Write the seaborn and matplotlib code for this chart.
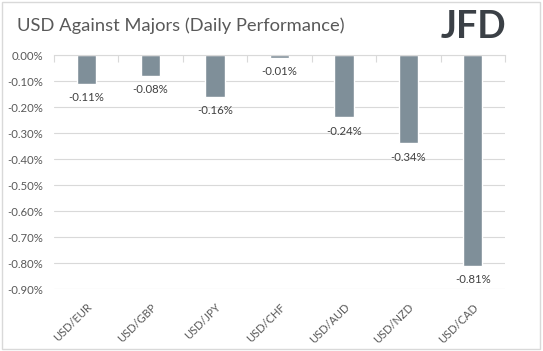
import matplotlib
matplotlib.use('Agg')
import matplotlib.pyplot as plt
import seaborn as sns
from matplotlib.patches import Rectangle
from matplotlib.ticker import FixedLocator

pairs = ['USD/EUR', 'USD/GBP', 'USD/JPY', 'USD/CHF', 'USD/AUD', 'USD/NZD', 'USD/CAD']
changes = [-0.11, -0.08, -0.16, -0.01, -0.24, -0.34, -0.81]
yticks = [0.0, -0.1, -0.2, -0.3, -0.4, -0.5, -0.6, -0.7, -0.8, -0.9]

sns.set_style('white')
plt.rcParams['font.family'] = ['Lato', 'DejaVu Sans']

fig = plt.figure(figsize=(5.43, 3.51), dpi=100)
ax = fig.add_axes([0.0994, 0.1766, 0.8306, 0.6664])

sns.barplot(x=pairs, y=changes, color='#7f8f99', saturation=1, width=0.3, ax=ax)

ax.set_ylim(-0.9, 0)
ax.set_xlim(-0.5, len(pairs) - 0.5)
ax.set_yticks(yticks)
ax.set_yticklabels([f'{v:.2f}%' for v in yticks])
ax.yaxis.grid(True, color='#d9d9d9', lw=0.8)
ax.set_axisbelow(True)
for s in ['left', 'right', 'bottom']:
    ax.spines[s].set_visible(False)
ax.spines['top'].set_color('#d9d9d9')
ax.spines['top'].set_linewidth(0.8)

ax.set_xticks(range(len(pairs)))
ax.set_xticklabels(pairs, rotation=45, ha='right', rotation_mode='anchor')
ax.xaxis.set_minor_locator(FixedLocator([i + 0.5 for i in range(-1, len(pairs))]))
ax.tick_params(axis='x', which='major', length=0, pad=9, labelsize=8, colors='#595959')
ax.tick_params(axis='x', which='minor', top=True, bottom=False, direction='in', length=5,
               color='#d9d9d9', width=0.8)
ax.tick_params(axis='y', length=0, pad=8, labelsize=8.2, colors='#595959')
ax.set_xlabel('')
ax.set_ylabel('')

for c in ax.containers:
    ax.bar_label(c, labels=[f'{v:.2f}%' for v in changes], padding=6, fontsize=8.2, color='#404040')

fig.text(0.031, 0.928, 'USD Against Majors (Daily Performance)', fontsize=13.2,
         color='#595959', va='center', ha='left')
fig.text(0.932, 0.922, 'JFD', fontsize=27, fontweight='bold', color='#3b4046',
         va='center', ha='right')

fig.patches.append(Rectangle((0.004, 0.006), 0.991, 0.988, transform=fig.transFigure,
                             fill=False, edgecolor='#d9d9d9', lw=1))

fig.savefig('out.png', dpi=100)
